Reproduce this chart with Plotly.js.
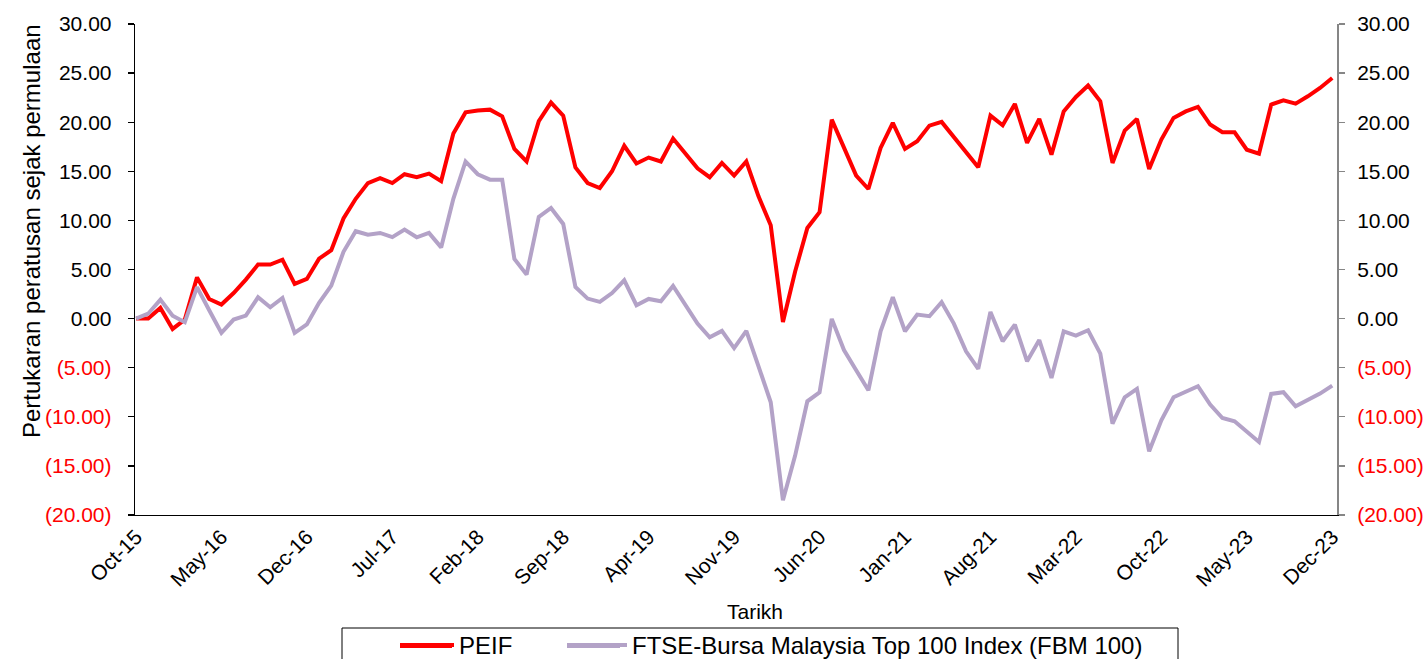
<!DOCTYPE html>
<html>
<head>
<meta charset="utf-8">
<script src="https://cdn.plot.ly/plotly-3.0.1.min.js"></script>
<style>
  html, body { margin: 0; padding: 0; background: #ffffff; }
  #chart { width: 1425px; height: 659px; }
</style>
</head>
<body>
<div id="chart"></div>
<script>
// ---- Data ----
const months = [
  'Oct-15','Nov-15','Dec-15',
  'Jan-16','Feb-16','Mar-16','Apr-16','May-16','Jun-16','Jul-16','Aug-16','Sep-16','Oct-16','Nov-16','Dec-16',
  'Jan-17','Feb-17','Mar-17','Apr-17','May-17','Jun-17','Jul-17','Aug-17','Sep-17','Oct-17','Nov-17','Dec-17',
  'Jan-18','Feb-18','Mar-18','Apr-18','May-18','Jun-18','Jul-18','Aug-18','Sep-18','Oct-18','Nov-18','Dec-18',
  'Jan-19','Feb-19','Mar-19','Apr-19','May-19','Jun-19','Jul-19','Aug-19','Sep-19','Oct-19','Nov-19','Dec-19',
  'Jan-20','Feb-20','Mar-20','Apr-20','May-20','Jun-20','Jul-20','Aug-20','Sep-20','Oct-20','Nov-20','Dec-20',
  'Jan-21','Feb-21','Mar-21','Apr-21','May-21','Jun-21','Jul-21','Aug-21','Sep-21','Oct-21','Nov-21','Dec-21',
  'Jan-22','Feb-22','Mar-22','Apr-22','May-22','Jun-22','Jul-22','Aug-22','Sep-22','Oct-22','Nov-22','Dec-22',
  'Jan-23','Feb-23','Mar-23','Apr-23','May-23','Jun-23','Jul-23','Aug-23','Sep-23','Oct-23','Nov-23','Dec-23'
];

const peif = [
  0.00, 0.00, 1.09, -1.05, -0.10, 4.20, 2.00, 1.43, 2.60, 3.97,
  5.50, 5.50, 6.00, 3.53, 4.04, 6.10, 6.96, 10.20, 12.20, 13.80,
  14.30, 13.80, 14.70, 14.40, 14.77, 14.00, 18.84, 21.00, 21.20, 21.28,
  20.60, 17.28, 16.00, 20.10, 22.00, 20.67, 15.40, 13.80, 13.30, 15.00,
  17.60, 15.80, 16.40, 16.00, 18.33, 16.87, 15.30, 14.40, 15.85, 14.56,
  16.00, 12.45, 9.50, -0.34, 4.80, 9.23, 10.83, 20.26, 17.38, 14.56,
  13.20, 17.38, 19.93, 17.28, 18.06, 19.65, 20.03, 18.47, 16.94, 15.40,
  20.67, 19.69, 21.86, 17.89, 20.33, 16.70, 21.10, 22.57, 23.73, 22.13,
  15.85, 19.14, 20.33, 15.24, 18.23, 20.44, 21.10, 21.56, 19.76, 18.97,
  18.97, 17.20, 16.80, 21.80, 22.23, 21.89, 22.64, 23.49, 24.50
];

const fbm100 = [
  0.00, 0.50, 1.93, 0.30, -0.37, 3.20, 0.85, -1.46, -0.10, 0.30,
  2.17, 1.15, 2.10, -1.46, -0.60, 1.60, 3.36, 6.80, 8.90, 8.55,
  8.72, 8.30, 9.06, 8.28, 8.72, 7.25, 12.20, 16.00, 14.70, 14.15,
  14.15, 6.08, 4.48, 10.35, 11.27, 9.64, 3.23, 2.04, 1.70, 2.60,
  3.90, 1.36, 2.00, 1.76, 3.33, 1.45, -0.50, -1.90, -1.25, -3.00,
  -1.25, -4.86, -8.52, -18.50, -13.95, -8.42, -7.50, -0.03, -3.20, -5.26,
  -7.30, -1.29, 2.17, -1.29, 0.41, 0.24, 1.66, -0.51, -3.33, -5.12,
  0.68, -2.31, -0.61, -4.35, -2.18, -6.04, -1.29, -1.73, -1.19, -3.56,
  -10.69, -8.01, -7.16, -13.51, -10.35, -8.01, -7.47, -6.89, -8.76, -10.12,
  -10.45, -11.57, -12.56, -7.67, -7.50, -8.93, -8.32, -7.64, -6.82
];

const xTickLabels = ['Oct-15','May-16','Dec-16','Jul-17','Feb-18','Sep-18','Apr-19','Nov-19',
                     'Jun-20','Jan-21','Aug-21','Mar-22','Oct-22','May-23','Dec-23'];

const yTickVals = [30, 25, 20, 15, 10, 5, 0, -5, -10, -15, -20];
const yTickText = ['30.00','25.00','20.00','15.00','10.00','5.00','0.00',
                   '(5.00)','(10.00)','(15.00)','(20.00)'];

const seriesNames = ['PEIF', 'FTSE-Bursa Malaysia Top 100 Index (FBM 100)'];
const seriesColors = ['#FF0000', '#B3A2C7'];
const xTitle = 'Tarikh';
const yTitle = 'Pertukaran peratusan sejak permulaan';

// ---- Layout helpers ----
const W = 1425, H = 659;
const plotL = 135, plotR = 1337, plotT = 24, plotB = 515;
const px2x = px => (px - plotL) / (plotR - plotL);
const px2y = py => (plotB - py) / (plotB - plotT);
const FONT = 'Liberation Sans, Arial, Helvetica, sans-serif';
const legendMidY = 646;

const tickTextColored = yTickText.map((t, i) =>
  yTickVals[i] < 0 ? '<span style="color:#FF0000">' + t + '</span>' : t);

const traces = [
  {
    x: months, y: peif, name: seriesNames[0], type: 'scatter', mode: 'lines',
    line: { color: seriesColors[0], width: 4 }, yaxis: 'y', legend: 'legend', hoverinfo: 'x+y'
  },
  {
    x: months, y: fbm100, name: seriesNames[1], type: 'scatter', mode: 'lines',
    line: { color: seriesColors[1], width: 4 }, yaxis: 'y2', legend: 'legend2', hoverinfo: 'x+y'
  }
];

const legendBase = {
  orientation: 'h', xanchor: 'left', yanchor: 'top',
  font: { family: FONT, size: 24, color: '#000000' },
  bgcolor: 'rgba(0,0,0,0)', borderwidth: 0
};

const layout = {
  width: W, height: H,
  margin: { l: plotL, r: W - plotR, t: plotT, b: H - plotB, pad: 0, autoexpand: false },
  paper_bgcolor: '#ffffff', plot_bgcolor: '#ffffff',
  font: { family: FONT, size: 21, color: '#000000' },
  showlegend: true,
  legend: Object.assign({}, legendBase, { x: px2x(395), y: px2y(legendMidY - 23), itemwidth: 54 }),
  legend2: Object.assign({}, legendBase, { x: px2x(562), y: px2y(legendMidY - 23), itemwidth: 60 }),
  xaxis: {
    type: 'category', range: [-0.08, 98.39],
    tickmode: 'array', tickvals: xTickLabels, ticktext: xTickLabels,
    tickangle: -45, tickfont: { family: FONT, size: 21, color: '#000000' },
    showline: true, linecolor: '#000000', linewidth: 1.3, ticks: '',
    showgrid: false, zeroline: false, fixedrange: true
  },
  yaxis: {
    range: [-20, 30], tickmode: 'array', tickvals: yTickVals, ticktext: tickTextColored,
    tickfont: { family: FONT, size: 21, color: '#000000' },
    ticks: 'outside', ticklen: 6, tickcolor: '#000000', tickwidth: 1.3,
    showline: true, linecolor: '#000000', linewidth: 1.3,
    showgrid: false, zeroline: false, fixedrange: true, ticklabelstandoff: 12
  },
  yaxis2: {
    range: [-20, 30], overlaying: 'y', side: 'right',
    tickmode: 'array', tickvals: yTickVals, ticktext: tickTextColored,
    tickfont: { family: FONT, size: 21, color: '#000000' },
    ticks: 'outside', ticklen: 6, tickcolor: '#868686', tickwidth: 1.3,
    showline: true, linecolor: '#868686', linewidth: 2,
    showgrid: false, zeroline: false, fixedrange: true, ticklabelstandoff: 8
  },
  annotations: [
    {
      text: xTitle, xref: 'paper', yref: 'paper', x: px2x(755), y: px2y(611),
      xanchor: 'center', yanchor: 'middle', showarrow: false,
      font: { family: FONT, size: 21, color: '#000000' }
    },
    {
      text: yTitle, xref: 'paper', yref: 'paper', x: px2x(31), y: px2y(231),
      xanchor: 'center', yanchor: 'middle', showarrow: false, textangle: -90,
      font: { family: FONT, size: 24, color: '#000000' }
    }
  ],
  shapes: [
    {
      type: 'rect', xref: 'paper', yref: 'paper',
      x0: px2x(342), x1: px2x(1178), y0: px2y(628), y1: px2y(680),
      line: { color: '#000000', width: 1 }, fillcolor: 'rgba(0,0,0,0)', layer: 'above'
    },
    {
      type: 'line', xref: 'paper', yref: 'paper',
      x0: px2x(400), x1: px2x(452), y0: px2y(legendMidY), y1: px2y(legendMidY),
      line: { color: seriesColors[0], width: 4 }, layer: 'above'
    },
    {
      type: 'line', xref: 'paper', yref: 'paper',
      x0: px2x(567), x1: px2x(620), y0: px2y(legendMidY), y1: px2y(legendMidY),
      line: { color: seriesColors[1], width: 4 }, layer: 'above'
    }
  ]
};

Plotly.newPlot('chart', traces, layout, { staticPlot: true, displayModeBar: false });
</script>
</body>
</html>
